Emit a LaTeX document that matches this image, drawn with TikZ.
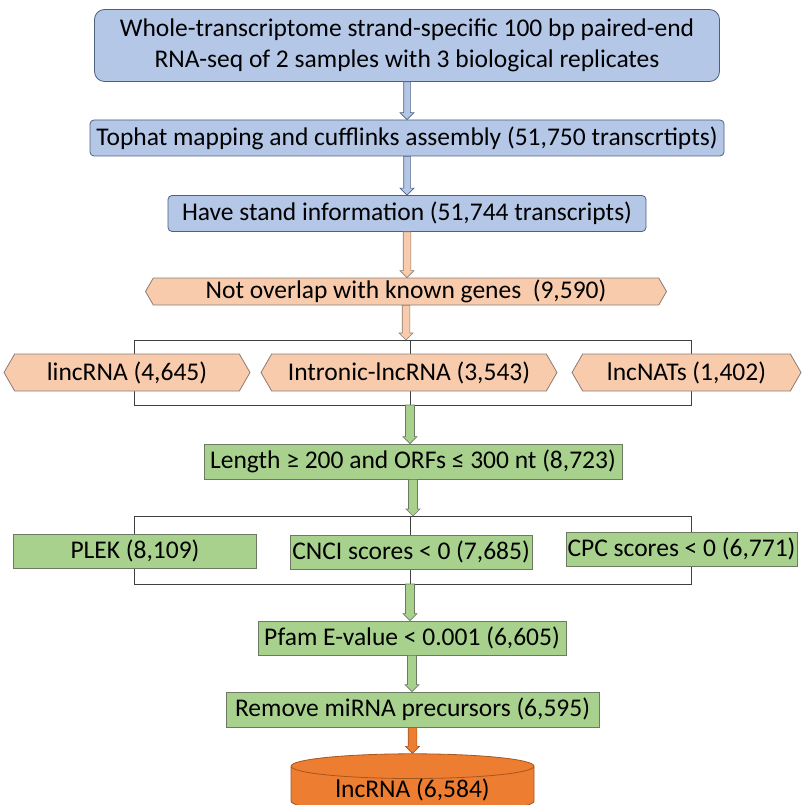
\documentclass[tikz,border=0pt]{standalone}
\usepackage{fontspec}
\setmainfont{Carlito}
\usetikzlibrary{shapes.symbols,shapes.geometric,calc}
\definecolor{seqblue}{HTML}{B4C7E7}
\definecolor{bluedge}{HTML}{4E6080}
\definecolor{filtsalmon}{HTML}{F8CBAD}
\definecolor{salmonedge}{HTML}{8C7C72}
\definecolor{codgreen}{HTML}{A9D18E}
\definecolor{greenedge}{HTML}{6C7A64}
\definecolor{finalorange}{HTML}{ED7D31}
\definecolor{orangeedge}{HTML}{A4561F}
\tikzset{
  base/.style={draw,align=center,inner sep=0pt,line width=0.8pt,
    font=\fontsize{25.5pt}{31pt}\selectfont},
  bluebox/.style={base,rounded corners=4pt,fill=seqblue,draw=bluedge},
  hexbox/.style={base,signal,signal to=west and east,signal pointer angle=120,
    fill=filtsalmon,draw=salmonedge},
  greenbox/.style={base,fill=codgreen,draw=greenedge},
  lncbase/.style={base,cylinder,shape border rotate=90,aspect=0.16,
    fill=finalorange,draw=orangeedge},
  bracket/.style={draw=black!75,line width=0.8pt},
  bluearrow/.style={fill=seqblue,draw=bluedge,line width=0.6pt},
  salmonarrow/.style={fill=filtsalmon,draw=salmonedge,line width=0.6pt},
  greenarrow/.style={fill=codgreen,draw=greenedge,line width=0.6pt},
  orangearrow/.style={fill=finalorange,draw=orangeedge,line width=0.6pt}
}
% block arrow: style, from, to, half shaft width (pt)
\newcommand{\blockarrow}[4]{%
  \draw[#1] let \p1=(#2), \p2=(#3) in
    (\x1-#4pt,\y1) -- (\x1-#4pt,\y2+7pt) -- (\x1-7pt,\y2+7pt) -- (\x1,\y2)
    -- (\x1+7pt,\y2+7pt) -- (\x1+#4pt,\y2+7pt) -- (\x1+#4pt,\y1) -- cycle;}

\begin{document}
\begin{tikzpicture}[x=1pt,y=-1pt]
  \useasboundingbox (0,0) rectangle (801,805);
  % brackets behind the split rows
  \coordinate (splitA) at (410,340);
  \coordinate (joinA) at (410,405);
  \coordinate (splitB) at (410,516);
  \coordinate (joinB) at (410,584);
  \draw[bracket] (134,340) rectangle (691,405) (splitA) -- (joinA);
  \draw[bracket] (134,516) rectangle (691,584) (splitB) -- (joinB);
  % assembly steps
  \node[bluebox,rounded corners=10pt,minimum width=625pt,minimum height=72pt]
    (seq) at (407,45.5) {Whole-transcriptome strand-specific 100 bp paired-end\\
    RNA-seq of 2 samples with 3 biological replicates};
  \node[bluebox,minimum width=634pt,minimum height=36pt]
    (map) at (407,138) {Tophat mapping and cufflinks assembly (51,750 transcrtipts)};
  \node[bluebox,minimum width=478pt,minimum height=36pt]
    (strand) at (407,213.5) {Have stand information (51,744 transcripts)};
  % classification
  \node[hexbox,minimum width=521pt,minimum height=27pt]
    (novel) at (406,291.5) {Not overlap with known genes~ (9,590)};
  \node[hexbox,minimum width=246pt,minimum height=37pt]
    (linc) at (127,372.5) {lincRNA (4,645)};
  \node[hexbox,minimum width=296pt,minimum height=37pt]
    (intron) at (409,372.5) {Intronic-lncRNA (3,543)};
  \node[hexbox,minimum width=229pt,minimum height=37pt]
    (nat) at (686.5,372.5) {lncNATs (1,402)};
  % coding potential filters
  \node[greenbox,minimum width=418pt,minimum height=35pt]
    (orf) at (413,461.5) {Length ≥ 200 and ORFs ≤ 300 nt (8,723)};
  \node[greenbox,minimum width=243pt,minimum height=34pt]
    (plek) at (135,551) {PLEK (8,109)};
  \node[greenbox,minimum width=242pt,minimum height=34pt]
    (cnci) at (411,552) {CNCI scores < 0 (7,685)};
  \node[greenbox,minimum width=231pt,minimum height=34pt]
    (cpc) at (681.5,549) {CPC scores < 0 (6,771)};
  \node[greenbox,minimum width=308pt,minimum height=34pt]
    (pfam) at (412,638) {Pfam E-value < 0.001 (6,605)};
  \node[greenbox,minimum width=373pt,minimum height=35pt]
    (mirna) at (412.5,709.5) {Remove miRNA precursors (6,595)};
  \node[lncbase,minimum width=243pt,minimum height=54pt]
    (lnc) at (412.5,790) {lncRNA (6,584)};
  % arrows
  \blockarrow{bluearrow}{seq.south}{map.north}{3.3}
  \blockarrow{bluearrow}{map.south}{strand.north}{3.3}
  \blockarrow{salmonarrow}{strand.south}{novel.north}{3.8}
  \blockarrow{salmonarrow}{novel.south}{splitA}{3.8}
  \blockarrow{greenarrow}{joinA}{orf.north}{4.5}
  \blockarrow{greenarrow}{orf.south}{splitB}{4.5}
  \blockarrow{greenarrow}{joinB}{pfam.north}{4.5}
  \blockarrow{greenarrow}{pfam.south}{mirna.north}{4.5}
  \blockarrow{orangearrow}{mirna.south}{lnc.north}{4.3}
\end{tikzpicture}
\end{document}
